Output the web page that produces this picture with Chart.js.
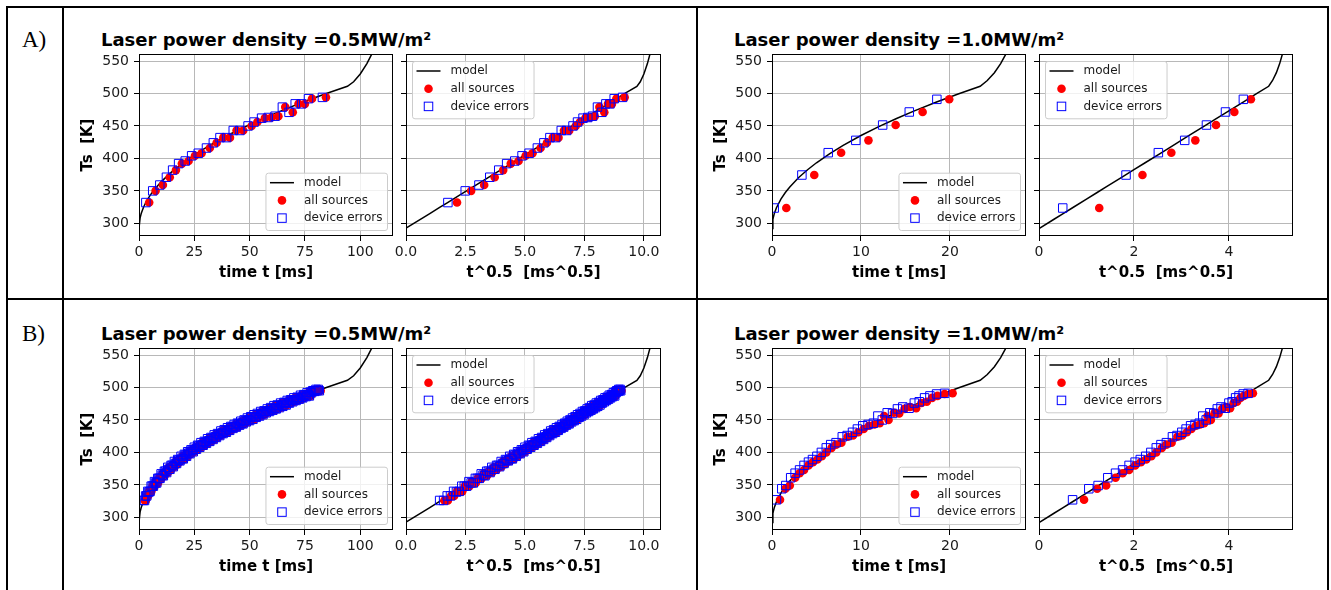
<!DOCTYPE html>
<html>
<head>
<meta charset="utf-8">
<script src="https://cdn.jsdelivr.net/npm/chart.js@4.4.1/dist/chart.umd.min.js"></script>
<style>
  body { margin: 0; background: #fff; }
  #page { position: relative; width: 1331px; height: 590px; overflow: hidden; background: #fff; }
  .rule { position: absolute; background: #000; }
  .title { position: absolute; font: bold 18px 'DejaVu Sans'; line-height: 18px; white-space: nowrap; color: #000; }
  .tag { position: absolute; font: 23px 'Liberation Serif'; line-height: 23px; color: #000; }
  canvas { position: absolute; }
</style>
</head>
<body>
<div id="page">
  <!-- table rules -->
  <div class="rule" style="left:6px;top:6px;width:1323px;height:2px"></div>
  <div class="rule" style="left:6px;top:298px;width:1323px;height:2px"></div>
  <div class="rule" style="left:6px;top:6px;width:2px;height:584px"></div>
  <div class="rule" style="left:62px;top:6px;width:2px;height:584px"></div>
  <div class="rule" style="left:696px;top:6px;width:2px;height:584px"></div>
  <div class="rule" style="left:1327px;top:6px;width:2px;height:584px"></div>

  <div class="tag" style="left:22px;top:28px">A)</div>
  <div class="tag" style="left:22px;top:322px">B)</div>

  <div class="title" style="left:101px;top:31px">Laser power density =0.5MW/m²</div>
  <div class="title" style="left:734px;top:31px">Laser power density =1.0MW/m²</div>
  <div class="title" style="left:101px;top:325px">Laser power density =0.5MW/m²</div>
  <div class="title" style="left:734px;top:325px">Laser power density =1.0MW/m²</div>

  <canvas id="a1"></canvas><canvas id="a2"></canvas><canvas id="a3"></canvas><canvas id="a4"></canvas>
  <canvas id="b1"></canvas><canvas id="b2"></canvas><canvas id="b3"></canvas><canvas id="b4"></canvas>
</div>
<script>
// Tick labels
const yTicks = [300, 350, 400, 450, 500, 550];
const xTicksTime05 = [0, 25, 50, 75, 100];
const xTicksSqrt05 = [0, 2.5, 5, 7.5, 10];
const xTicksTime10 = [0, 10, 20];
const xTicksSqrt10 = [0, 2, 4];

// Model curves (time in ms, Ts in K)
const modelTime05 = [0, 0.5, 1, 2, 3, 5, 7, 10, 14, 18, 23, 29, 35, 42, 50, 58, 67, 76, 85, 94.2, 97, 100, 103, 106, 110];
const modelTs05 = [292.6, 308.5, 315.1, 324.5, 331.6, 343.0, 352.2, 363.9, 376.9, 388.2, 400.7, 414.0, 426.0, 438.7, 452.0, 464.3, 477.1, 489.1, 500.4, 511.0, 518, 530, 546, 566, 595];
const modelTime10 = [0, 0.1, 0.25, 0.5, 1, 1.5, 2, 3, 4, 5, 6.5, 8, 10, 12, 14, 16, 18.5, 21, 23.4, 24.2, 25, 25.7, 26.5, 27.5];
const modelTs10 = [292, 306.3, 314.7, 324.0, 337.3, 347.5, 356.1, 370.5, 382.6, 393.3, 407.5, 420.1, 435.3, 448.9, 461.5, 473.2, 486.8, 499.6, 511.1, 520, 532, 546, 566, 595];

// A) 0.5 MW/m2
const a05Ts = [332, 350, 359, 371, 382, 392, 396, 404, 408, 416, 424, 432, 432, 443, 443, 450, 456, 462, 463, 465, 479, 471, 484, 484, 492, 494];
const a05TimeAll = [4.6, 7.5, 10.8, 13.9, 16.7, 19.4, 22.4, 25.3, 28.3, 32.0, 35.1, 38.1, 41.1, 44.1, 47.1, 50.9, 53.5, 56.9, 59.9, 63.0, 66.1, 69.5, 72.1, 75.0, 78.2, 84.5];
const a05TimeDev = [3.1, 6.2, 9.4, 12.4, 15.2, 17.9, 20.9, 23.8, 26.8, 30.5, 33.6, 36.6, 39.6, 42.6, 45.6, 49.3, 52.0, 55.4, 58.4, 61.5, 64.8, 67.8, 70.6, 73.5, 76.6, 82.9];

// A) 1.0 MW/m2
const a10Ts = [323.6, 374.4, 408.8, 427.8, 451.4, 471.5, 491];
const a10TimeAll = [1.61, 4.75, 7.77, 10.84, 13.9, 16.93, 19.92];
const a10TimeDev = [0.25, 3.36, 6.32, 9.42, 12.44, 15.43, 18.53];

// B) 0.5 MW/m2 (dense record)
const b05Ts = [
  326, 326, 333, 333, 340, 339, 340, 348, 348, 348, 355, 353, 353, 360, 360, 360, 367, 365, 364, 371,
  371, 369, 377, 374, 374, 380, 380, 378, 386, 383, 383, 389, 388, 387, 394, 391, 390, 397, 396, 394,
  401, 399, 398, 404, 403, 401, 408, 405, 405, 411, 410, 408, 415, 412, 411, 417, 416, 414, 421, 418,
  417, 423, 422, 420, 427, 424, 423, 429, 428, 426, 433, 430, 429, 435, 433, 431, 438, 435, 434, 440,
  439, 437, 443, 440, 439, 445, 444, 442, 448, 445, 444, 450, 449, 447, 453, 450, 449, 455, 454, 451,
  458, 455, 454, 460, 458, 456, 463, 460, 458, 464, 463, 461, 467, 464, 463, 469, 467, 465, 472, 468,
  467, 473, 472, 469, 476, 473, 471, 477, 476, 473, 480, 477, 476, 481, 480, 478, 484, 481, 480, 485,
  484, 482, 488, 485, 484, 489, 488, 486, 492, 489, 487, 493, 492, 495, 495, 494, 497, 495, 497, 495];
const b05TimeDev = [
  2.0, 2.5, 3.0, 3.5, 4.0, 4.5, 5.0, 5.5, 6.0, 6.5, 7.0, 7.5, 8.0, 8.5, 9.0, 9.5, 10.0, 10.5, 11.0, 11.5,
  12.0, 12.5, 13.0, 13.5, 14.0, 14.5, 15.0, 15.5, 16.0, 16.5, 17.0, 17.5, 18.0, 18.5, 19.0, 19.5, 20.0, 20.5, 21.0, 21.5,
  22.0, 22.5, 23.0, 23.5, 24.0, 24.5, 25.0, 25.5, 26.0, 26.5, 27.0, 27.5, 28.0, 28.5, 29.0, 29.5, 30.0, 30.5, 31.0, 31.5,
  32.0, 32.5, 33.0, 33.5, 34.0, 34.5, 35.0, 35.5, 36.0, 36.5, 37.0, 37.5, 38.0, 38.5, 39.0, 39.5, 40.0, 40.5, 41.0, 41.5,
  42.0, 42.5, 43.0, 43.5, 44.0, 44.5, 45.0, 45.5, 46.0, 46.5, 47.0, 47.5, 48.0, 48.5, 49.0, 49.5, 50.0, 50.5, 51.0, 51.5,
  52.0, 52.5, 53.0, 53.5, 54.0, 54.5, 55.0, 55.5, 56.0, 56.5, 57.0, 57.5, 58.0, 58.5, 59.0, 59.5, 60.0, 60.5, 61.0, 61.5,
  62.0, 62.5, 63.0, 63.5, 64.0, 64.5, 65.0, 65.5, 66.0, 66.5, 67.0, 67.5, 68.0, 68.5, 69.0, 69.5, 70.0, 70.5, 71.0, 71.5,
  72.0, 72.5, 73.0, 73.5, 74.0, 74.5, 75.0, 75.5, 76.0, 76.5, 77.0, 77.5, 78.0, 78.5, 79.0, 79.5, 80.0, 80.5, 81.0, 81.5];
const b05TimeAll = [
  2.6, 3.1, 3.6, 4.1, 4.6, 5.1, 5.6, 6.1, 6.6, 7.1, 7.6, 8.1, 8.6, 9.1, 9.6, 10.1, 10.6, 11.1, 11.6, 12.1,
  12.6, 13.1, 13.6, 14.1, 14.6, 15.1, 15.6, 16.1, 16.6, 17.1, 17.6, 18.1, 18.6, 19.1, 19.6, 20.1, 20.6, 21.1, 21.6, 22.1,
  22.6, 23.1, 23.6, 24.1, 24.6, 25.1, 25.6, 26.1, 26.6, 27.1, 27.6, 28.1, 28.6, 29.1, 29.6, 30.1, 30.6, 31.1, 31.6, 32.1,
  32.6, 33.1, 33.6, 34.1, 34.6, 35.1, 35.6, 36.1, 36.6, 37.1, 37.6, 38.1, 38.6, 39.1, 39.6, 40.1, 40.6, 41.1, 41.6, 42.1,
  42.6, 43.1, 43.6, 44.1, 44.6, 45.1, 45.6, 46.1, 46.6, 47.1, 47.6, 48.1, 48.6, 49.1, 49.6, 50.1, 50.6, 51.1, 51.6, 52.1,
  52.6, 53.1, 53.6, 54.1, 54.6, 55.1, 55.6, 56.1, 56.6, 57.1, 57.6, 58.1, 58.6, 59.1, 59.6, 60.1, 60.6, 61.1, 61.6, 62.1,
  62.6, 63.1, 63.6, 64.1, 64.6, 65.1, 65.6, 66.1, 66.6, 67.1, 67.6, 68.1, 68.6, 69.1, 69.6, 70.1, 70.6, 71.1, 71.6, 72.1,
  72.6, 73.1, 73.6, 74.1, 74.6, 75.1, 75.6, 76.1, 76.6, 77.1, 77.6, 78.1, 78.6, 79.1, 79.6, 80.1, 80.6, 81.1, 81.6, 82.1];

// B) 1.0 MW/m2
const b10Ts = [327, 344, 349, 361, 368, 373, 380, 385, 389, 394, 400, 407, 412, 415, 424, 426, 431, 436, 441, 443,
  445, 456, 450, 461, 460, 467, 470, 468, 476, 478, 484, 487, 490, 491];
const b10TimeAll = [0.9, 1.5, 2.0, 2.6, 3.1, 3.6, 4.1, 4.6, 5.1, 5.6, 6.1, 6.7, 7.2, 7.8, 8.5, 9.1, 9.7, 10.3, 10.9, 11.5,
  12.1, 12.6, 13.1, 13.7, 14.3, 14.9, 15.5, 16.2, 16.8, 17.4, 18.0, 18.6, 19.4, 20.3];
const b10TimeDev = [0.5, 1.1, 1.55, 2.1, 2.6, 3.1, 3.6, 4.1, 4.55, 5.05, 5.55, 6.1, 6.6, 7.2, 7.9, 8.45, 9.05, 9.6, 10.2, 10.8,
  11.4, 11.9, 12.4, 12.95, 13.55, 14.1, 14.7, 15.4, 16.0, 16.55, 17.15, 17.75, 18.5, 19.4];

const Y_MIN = 280.5, Y_MAX = 560.8;
const PAD_TOP = 10, PAD_RIGHT = 14, X_H = 46;
const FONT = 'DejaVu Sans';

const pts = (xs, ys) => xs.map((x, i) => ({ x: x, y: ys[i] }));
const sq = xs => xs.map(Math.sqrt);

// matplotlib-like frame and legend
const mplLegend = {
  id: 'mplLegend',
  afterDraw(chart, args, opts) {
    const ctx = chart.ctx, a = chart.chartArea;
    ctx.save();
    ctx.strokeStyle = '#000';
    ctx.lineWidth = 1;
    ctx.strokeRect(a.left + 0.5, a.top + 0.5, a.right - a.left - 1, a.bottom - a.top - 1);

    ctx.font = '12px "' + FONT + '"';
    const items = chart.data.datasets;
    const tw = Math.max(...items.map(d => ctx.measureText(d.label).width));
    const w = 38.5 + tw + 4.5, h = 57.3;
    const x0 = opts.corner === 'lr' ? a.right - 6 - w : a.left + 6;
    const y0 = opts.corner === 'lr' ? a.bottom - 6 - h : a.top + 7;
    ctx.beginPath();
    ctx.roundRect(x0 + 0.5, y0 + 0.5, w, h, 2.5);
    ctx.fillStyle = 'rgba(255,255,255,0.8)';
    ctx.fill();
    ctx.strokeStyle = '#cccccc';
    ctx.stroke();

    items.forEach((d, i) => {
      const cy = y0 + 10 + i * 17.7;
      const hx = x0 + 4.5, cx = hx + 12;
      if (d.showLine) {
        ctx.beginPath();
        ctx.moveTo(hx, cy); ctx.lineTo(hx + 24, cy);
        ctx.strokeStyle = d.borderColor; ctx.lineWidth = d.borderWidth;
        ctx.stroke();
      } else if (d.pointStyle === 'circle') {
        ctx.beginPath();
        ctx.arc(cx, cy, d.pointRadius, 0, Math.PI * 2);
        ctx.fillStyle = d.backgroundColor;
        ctx.fill();
      } else {
        const s = d.pointRadius * Math.SQRT1_2;
        ctx.strokeStyle = d.borderColor; ctx.lineWidth = d.borderWidth;
        ctx.strokeRect(cx - s, cy - s, 2 * s, 2 * s);
      }
      ctx.fillStyle = '#1a1a1a';
      ctx.textBaseline = 'middle';
      ctx.textAlign = 'left';
      ctx.fillText(d.label, x0 + 38.5, cy);
    });
    ctx.restore();
  }
};

// Build one subplot whose chart area is exactly L,T,R,B on the page
function panel(id, L, T, R, B, o) {
  const yW = o.yLabels ? 60 : 14;
  const cv = document.getElementById(id);
  const w = (R - L) + yW + PAD_RIGHT, h = (B - T) + PAD_TOP + X_H;
  cv.width = w; cv.height = h;
  cv.style.left = (L - yW) + 'px'; cv.style.top = (T - PAD_TOP) + 'px';
  cv.style.width = w + 'px'; cv.style.height = h + 'px';

  const grid = { color: '#b8b8b8', lineWidth: 1, drawTicks: true, tickLength: 5, tickColor: '#000', tickWidth: 1 };
  const tickFont = { family: FONT, size: 14 };
  const titleFont = { family: FONT, size: 15, weight: 'bold' };

  new Chart(cv, {
    type: 'scatter',
    data: {
      datasets: [
        { label: 'model', data: pts(o.mx, o.my), showLine: true, borderColor: '#000', borderWidth: 1.5,
          pointRadius: 0, order: 3 },
        { label: 'all sources', data: pts(o.ax, o.ty), pointStyle: 'circle', pointRadius: 4.3,
          backgroundColor: '#ff0000', borderWidth: 0, order: 2 },
        { label: 'device errors', data: pts(o.dx, o.ty), pointStyle: 'rect', pointRadius: 6.0,
          backgroundColor: 'rgba(0,0,0,0)', borderColor: '#0000ff', borderWidth: 1, order: 1 }
      ]
    },
    options: {
      responsive: false,
      animation: false,
      events: [],
      layout: { padding: { left: 0, top: PAD_TOP, right: PAD_RIGHT, bottom: 0 } },
      plugins: { legend: { display: false }, tooltip: { enabled: false }, mplLegend: { corner: o.legend } },
      scales: {
        x: {
          type: 'linear', min: 0, max: o.xMax,
          afterBuildTicks: s => { s.ticks = o.xTicks.map(v => ({ value: v })); },
          afterFit: s => { s.height = X_H; s.paddingLeft = 0; s.paddingRight = 0; },
          grid: grid,
          border: { display: false },
          ticks: { autoSkip: false, maxRotation: 0, padding: 3, color: '#1a1a1a', font: tickFont,
                   callback: v => v.toFixed(o.xDec) },
          title: { display: true, text: o.xTitle, color: '#000', font: titleFont, padding: { top: 0, bottom: 0 } }
        },
        y: {
          type: 'linear', min: Y_MIN, max: Y_MAX,
          afterBuildTicks: s => { s.ticks = yTicks.map(v => ({ value: v })); },
          afterFit: s => { s.width = yW; s.paddingTop = 0; s.paddingBottom = 0; },
          grid: grid,
          border: { display: false },
          ticks: { display: o.yLabels, autoSkip: false, padding: 5, color: '#1a1a1a', font: tickFont },
          title: { display: o.yLabels, text: 'Ts  [K]', color: '#000', font: titleFont, padding: { top: 0, bottom: 0 } }
        }
      }
    },
    plugins: [mplLegend]
  });
}

const TIME_TITLE = 'time t [ms]', SQRT_TITLE = 't^0.5  [ms^0.5]';

panel('a1', 139, 54, 393, 236, { yLabels: true, legend: 'lr', xMax: 114.8, xTicks: xTicksTime05, xDec: 0, xTitle: TIME_TITLE,
  mx: modelTime05, my: modelTs05, ax: a05TimeAll, dx: a05TimeDev, ty: a05Ts });
panel('a2', 406, 54, 661, 236, { yLabels: false, legend: 'ul', xMax: 10.72, xTicks: xTicksSqrt05, xDec: 1, xTitle: SQRT_TITLE,
  mx: sq(modelTime05), my: modelTs05, ax: sq(a05TimeAll), dx: sq(a05TimeDev), ty: a05Ts });
panel('a3', 772, 54, 1026, 236, { yLabels: true, legend: 'lr', xMax: 28.55, xTicks: xTicksTime10, xDec: 0, xTitle: TIME_TITLE,
  mx: modelTime10, my: modelTs10, ax: a10TimeAll, dx: a10TimeDev, ty: a10Ts });
panel('a4', 1039, 54, 1293, 236, { yLabels: false, legend: 'ul', xMax: 5.35, xTicks: xTicksSqrt10, xDec: 0, xTitle: SQRT_TITLE,
  mx: sq(modelTime10), my: modelTs10, ax: sq(a10TimeAll), dx: sq(a10TimeDev), ty: a10Ts });

panel('b1', 139, 348, 393, 530, { yLabels: true, legend: 'lr', xMax: 114.8, xTicks: xTicksTime05, xDec: 0, xTitle: TIME_TITLE,
  mx: modelTime05, my: modelTs05, ax: b05TimeAll, dx: b05TimeDev, ty: b05Ts });
panel('b2', 406, 348, 661, 530, { yLabels: false, legend: 'ul', xMax: 10.72, xTicks: xTicksSqrt05, xDec: 1, xTitle: SQRT_TITLE,
  mx: sq(modelTime05), my: modelTs05, ax: sq(b05TimeAll), dx: sq(b05TimeDev), ty: b05Ts });
panel('b3', 772, 348, 1026, 530, { yLabels: true, legend: 'lr', xMax: 28.55, xTicks: xTicksTime10, xDec: 0, xTitle: TIME_TITLE,
  mx: modelTime10, my: modelTs10, ax: b10TimeAll, dx: b10TimeDev, ty: b10Ts });
panel('b4', 1039, 348, 1293, 530, { yLabels: false, legend: 'ul', xMax: 5.35, xTicks: xTicksSqrt10, xDec: 0, xTitle: SQRT_TITLE,
  mx: sq(modelTime10), my: modelTs10, ax: sq(b10TimeAll), dx: sq(b10TimeDev), ty: b10Ts });
</script>
</body>
</html>
